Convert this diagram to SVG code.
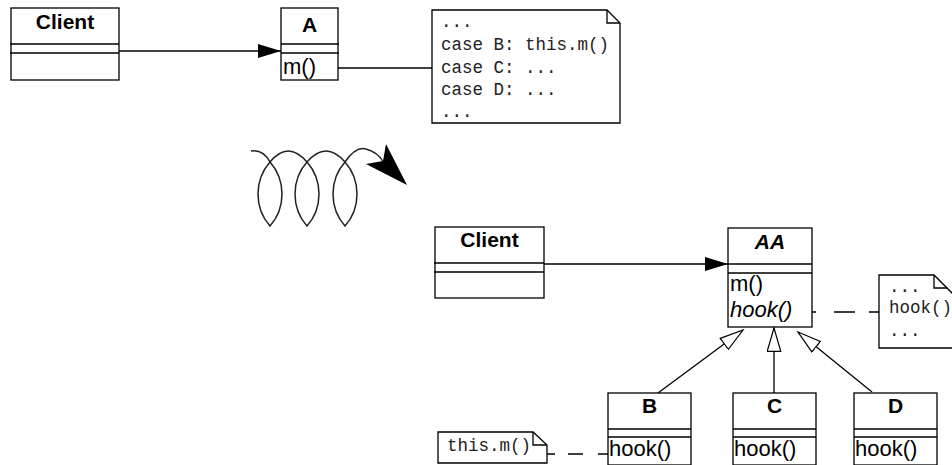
<svg xmlns="http://www.w3.org/2000/svg" width="952" height="465" viewBox="0 0 952 465">
  <style>
    .box { fill: #fff; stroke: #000; stroke-width: 1.3; }
    .ln { fill: none; stroke: #000; stroke-width: 1.3; }
    .cls { font-family: "Liberation Sans", Arial, sans-serif; font-size: 21px; font-weight: bold; text-anchor: middle; fill: #000; }
    .op { font-family: "Liberation Sans", Arial, sans-serif; font-size: 22px; fill: #000; }
    .code { font-family: "Liberation Mono", "Courier New", monospace; font-size: 17.5px; fill: #222; }
  </style>
  <defs>
    <marker id="solid" markerUnits="userSpaceOnUse" markerWidth="24" markerHeight="16" refX="23" refY="7" orient="auto">
      <path d="M0,0 L23,7 L0,14 Z" fill="#000"/>
    </marker>
    <marker id="inherit" markerUnits="userSpaceOnUse" markerWidth="26" markerHeight="16" refX="24" refY="7.5" orient="auto">
      <path d="M0.7,0.7 L24,7.5 L0.7,14.3 Z" fill="#fff" stroke="#000" stroke-width="1.2"/>
    </marker>
  </defs>

  <!-- upper: Client calls A directly -->
  <g id="client-top">
    <rect class="box" x="11" y="8" width="108" height="72"/>
    <path class="ln" d="M10,44 H119 M10,53 H119"/>
    <text class="cls" x="65" y="29">Client</text>
  </g>
  <g id="class-a">
    <rect class="box" x="281" y="8" width="57" height="72"/>
    <path class="ln" d="M281,44 H339 M281,53 H339"/>
    <text class="cls" x="309.5" y="32">A</text>
    <text class="op" x="283" y="74">m()</text>
  </g>
  <g id="note-switch">
    <path class="box" d="M432,10 H607 L620,23 V123 H432 Z"/>
    <path class="ln" d="M607,10 V23 H620"/>
    <text class="code" x="441" y="27">...</text>
    <text class="code" x="441" y="50">case B: this.m()</text>
    <text class="code" x="441" y="73">case C: ...</text>
    <text class="code" x="441" y="95">case D: ...</text>
    <text class="code" x="441" y="117">...</text>
  </g>

  <!-- refactoring spiral -->
  <g id="spiral">
    <path d="M251,151 Q263,149 270,162 C286,180 286,208 270,226 C254,208 254,180 270,162 Q288,140 307,162 C323,180 323,208 307,226 C291,208 291,180 307,162 Q326,140 345,162 C361,180 361,208 345,226 C329,208 329,180 345,162 Q356,146 366,149 Q378,152 384,163" fill="none" stroke="#222" stroke-width="1.5"/>
    <polygon points="386,144 407,185 366,164 383,161" fill="#000"/>
  </g>

  <!-- lower: Client calls abstract AA, subclasses override hook() -->
  <g id="client-bottom">
    <rect class="box" x="435" y="227" width="109" height="71"/>
    <path class="ln" d="M434,263 H544 M434,272 H544"/>
    <text class="cls" x="489.5" y="247">Client</text>
  </g>
  <g id="class-aa">
    <rect class="box" x="728" y="228" width="84" height="99"/>
    <path class="ln" d="M728,264 H812 M728,273 H812"/>
    <text class="cls" x="770" y="249" font-style="italic">AA</text>
    <text class="op" x="730" y="291">m()</text>
    <text class="op" x="730" y="317" font-style="italic">hook()</text>
  </g>
  <g id="note-hook">
    <path class="box" d="M879,275 H934 L956,297 V348 H879 Z"/>
    <path class="ln" d="M934,275 V288 H947"/>
    <text class="code" x="889" y="292">...</text>
    <text class="code" x="889" y="313">hook()</text>
    <text class="code" x="889" y="336">...</text>
  </g>
  <g id="class-b">
    <rect class="box" x="608" y="393" width="83" height="72"/>
    <path class="ln" d="M608,429 H691 M608,437 H691"/>
    <text class="cls" x="649.5" y="413">B</text>
    <text class="op" x="609" y="456">hook()</text>
  </g>
  <g id="class-c">
    <rect class="box" x="733" y="393" width="83" height="72"/>
    <path class="ln" d="M733,429 H816 M733,437 H816"/>
    <text class="cls" x="774.5" y="413">C</text>
    <text class="op" x="734" y="456">hook()</text>
  </g>
  <g id="class-d">
    <rect class="box" x="854" y="393" width="83" height="72"/>
    <path class="ln" d="M854,429 H937 M854,437 H937"/>
    <text class="cls" x="895.5" y="413">D</text>
    <text class="op" x="855" y="456">hook()</text>
  </g>
  <g id="note-call">
    <path class="box" d="M438,432 H533 L547,445 V463 H438 Z"/>
    <path class="ln" d="M533,432 V445 H547"/>
    <text class="code" x="447" y="451">this.m()</text>
  </g>

  <g id="connectors">
    <line class="ln" x1="119" y1="51" x2="281" y2="51" marker-end="url(#solid)"/>
    <line class="ln" x1="338" y1="68" x2="432" y2="68"/>
    <line class="ln" x1="544" y1="264" x2="728" y2="264" marker-end="url(#solid)"/>
    <path class="ln" d="M812,312 H816 M834,312 H855 M869,312 H879"/>
    <path class="ln" d="M547,454 H555 M568,454 H583 M598,454 H608"/>
    <line class="ln" x1="658" y1="393" x2="743" y2="330" marker-end="url(#inherit)"/>
    <line class="ln" x1="774" y1="393" x2="774" y2="328" marker-end="url(#inherit)"/>
    <line class="ln" x1="872" y1="392" x2="798" y2="332" marker-end="url(#inherit)"/>
  </g>
</svg>
